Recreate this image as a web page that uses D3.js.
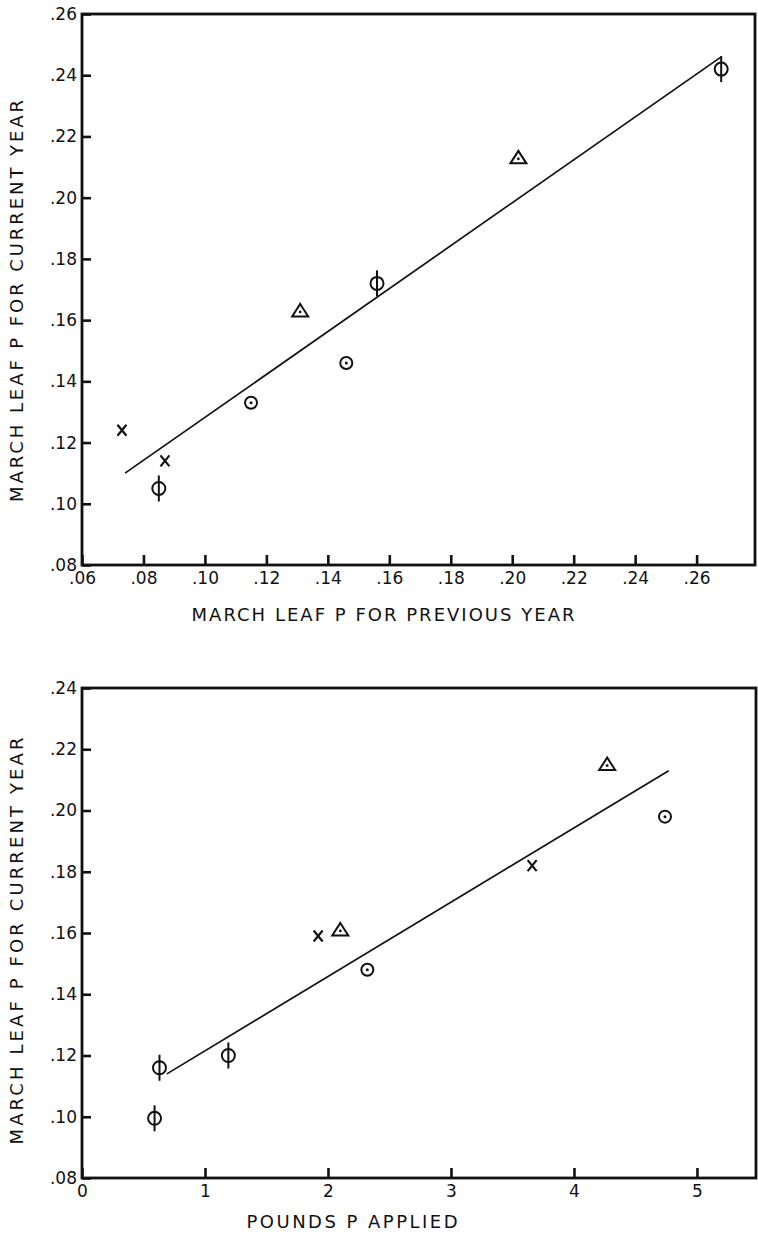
<!DOCTYPE html>
<html>
<head>
<meta charset="utf-8">
<script src="https://cdn.jsdelivr.net/npm/d3@7"></script>
<style>
  body { margin: 0; background: #fff; }
  text { font-family: "DejaVu Sans", "Liberation Sans", sans-serif; fill: #111; }
  .tick text { font-size: 17px; }
</style>
</head>
<body>
<script>
// Top panel: leaf P previous year vs current year
const topX   = [0.073, 0.087, 0.085, 0.115, 0.131, 0.146, 0.156, 0.202, 0.268];
const topY   = [0.124, 0.114, 0.105, 0.133, 0.163, 0.146, 0.172, 0.213, 0.242];
const topSym = ["x", "x", "phi", "dot", "tri", "dot", "phi", "tri", "phi"];
const topFit = [[0.074, 0.110], [0.268, 0.246]];
const topXTicks = [0.06, 0.08, 0.10, 0.12, 0.14, 0.16, 0.18, 0.20, 0.22, 0.24, 0.26];
const topYTicks = [0.08, 0.10, 0.12, 0.14, 0.16, 0.18, 0.20, 0.22, 0.24, 0.26];

// Bottom panel: pounds P applied vs current year leaf P
const botX   = [0.59, 0.63, 1.19, 1.92, 2.10, 2.32, 3.66, 4.27, 4.74];
const botY   = [0.0995, 0.116, 0.120, 0.159, 0.161, 0.148, 0.182, 0.215, 0.198];
const botSym = ["phi", "phi", "phi", "x", "tri", "dot", "x", "tri", "dot"];
const botFit = [[0.69, 0.114], [4.77, 0.213]];
const botXTicks = [0, 1, 2, 3, 4, 5];
const botYTicks = [0.08, 0.10, 0.12, 0.14, 0.16, 0.18, 0.20, 0.22, 0.24];

const width = 758, height = 1236;
const svg = d3.select("body").append("svg")
  .attr("width", width).attr("height", height);

const dec = d => d3.format(".2f")(d).replace(/^0/, "");  // ".08" style

function marker(sel, sym) {
  if (sym === "phi") {
    sel.append("circle").attr("r", 6.5).attr("fill", "none").attr("stroke", "#111").attr("stroke-width", 2);
    sel.append("line").attr("y1", -13).attr("y2", 13).attr("stroke", "#111").attr("stroke-width", 2);
  } else if (sym === "dot") {
    sel.append("circle").attr("r", 6).attr("fill", "none").attr("stroke", "#111").attr("stroke-width", 2);
    sel.append("circle").attr("r", 1.5).attr("fill", "#111");
  } else if (sym === "tri") {
    sel.append("path").attr("d", "M0,-7L8,5.5L-8,5.5Z").attr("fill", "none").attr("stroke", "#111").attr("stroke-width", 2);
    sel.append("circle").attr("cy", 1).attr("r", 1.4).attr("fill", "#111");
  } else {
    sel.append("path").attr("d", "M-4.5,-5.5L4.5,5.5M4.5,-5.5L-4.5,5.5").attr("stroke", "#111").attr("stroke-width", 2.2);
  }
}

function panel(o) {
  const g = svg.append("g");
  const x = d3.scaleLinear().domain(o.xDomain).range([o.left, o.right]);
  const y = d3.scaleLinear().domain(o.yDomain).range([o.bottom, o.top]);

  g.append("g")
    .attr("transform", `translate(${o.left},0)`)
    .call(d3.axisLeft(y).tickValues(o.yTicks).tickFormat(dec).tickSize(-9).tickPadding(5))
    .call(a => a.select(".domain").remove())
    .call(a => a.selectAll("line").attr("stroke", "#111").attr("stroke-width", 2.6))
    .call(a => a.selectAll("text").attr("fill", "#111"));

  g.append("g")
    .attr("transform", `translate(0,${o.bottom})`)
    .call(d3.axisBottom(x).tickValues(o.xTicks).tickFormat(o.xFormat).tickSize(-10).tickPadding(7))
    .call(a => a.select(".domain").remove())
    .call(a => a.selectAll("line").attr("stroke", "#111").attr("stroke-width", 2.6))
    .call(a => a.selectAll("text").attr("fill", "#111"));

  svg.selectAll("g").attr("font-family", null).attr("font-size", null);

  // frame
  g.append("rect")
    .attr("x", o.left).attr("y", o.top)
    .attr("width", o.right - o.left).attr("height", o.bottom - o.top)
    .attr("fill", "none").attr("stroke", "#111").attr("stroke-width", 2.8);

  // fitted line
  g.append("line")
    .attr("x1", x(o.fit[0][0])).attr("y1", y(o.fit[0][1]))
    .attr("x2", x(o.fit[1][0])).attr("y2", y(o.fit[1][1]))
    .attr("stroke", "#111").attr("stroke-width", 1.7);

  const pts = o.xs.map((v, i) => ({x: v, y: o.ys[i], s: o.sym[i]}));
  g.selectAll(".pt")
    .data(pts)
    .join("g")
    .attr("class", "pt")
    .attr("transform", d => `translate(${x(d.x)},${y(d.y)})`)
    .each(function(d) { marker(d3.select(this), d.s); });

  // axis titles
  g.append("text")
    .attr("x", o.xTitleX).attr("y", o.xTitleY)
    .attr("text-anchor", "middle").style("font-size", "18px")
    .attr("textLength", o.xTitleLen).attr("lengthAdjust", "spacing")
    .text(o.xTitle);

  g.append("text")
    .attr("transform", `translate(23,${o.yTitleY}) rotate(-90)`)
    .attr("text-anchor", "middle").style("font-size", "18px")
    .attr("textLength", o.yTitleLen).attr("lengthAdjust", "spacing")
    .text("MARCH LEAF P FOR CURRENT YEAR");
}

panel({
  xs: topX, ys: topY, sym: topSym, fit: topFit,
  xDomain: [0.06, 0.279], yDomain: [0.08, 0.26],
  left: 82, right: 755, top: 14, bottom: 565,
  xTicks: topXTicks, yTicks: topYTicks, xFormat: dec,
  xTitle: "MARCH LEAF P FOR PREVIOUS YEAR", xTitleX: 383, xTitleY: 621, xTitleLen: 383,
  yTitleY: 301, yTitleLen: 402
});

panel({
  xs: botX, ys: botY, sym: botSym, fit: botFit,
  xDomain: [0, 5.48], yDomain: [0.08, 0.24],
  left: 82, right: 756, top: 688, bottom: 1178,
  xTicks: botXTicks, yTicks: botYTicks, xFormat: d3.format("d"),
  xTitle: "POUNDS P APPLIED", xTitleX: 352, xTitleY: 1228, xTitleLen: 211,
  yTitleY: 941, yTitleLen: 407
});
</script>
</body>
</html>
